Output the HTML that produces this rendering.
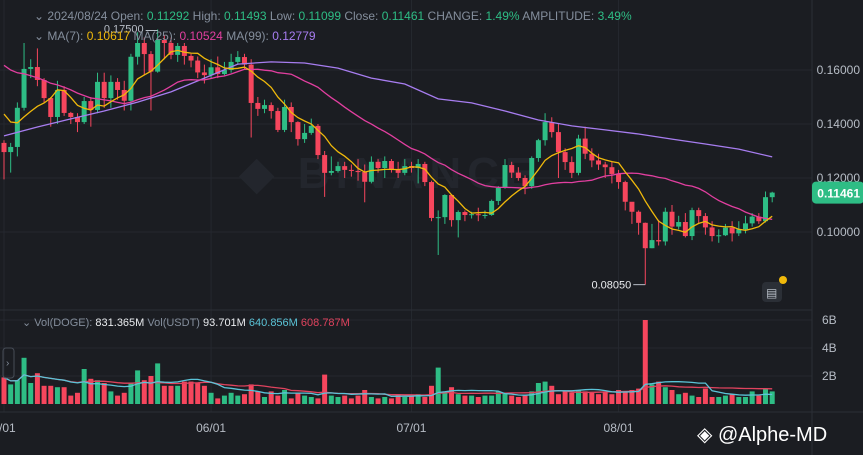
<!DOCTYPE html>
<html><head><meta charset="utf-8">
<style>
html,body{margin:0;padding:0;background:#1b1d22;}
#wrap{position:relative;width:863px;height:455px;overflow:hidden;background:#1b1d22;font-family:"Liberation Sans",sans-serif;}
svg{position:absolute;left:0;top:0;}
</style></head>
<body>
<div id="wrap">
<svg id="chart" width="863" height="455" viewBox="0 0 863 455">
  <g id="grid"></g>
  <text x="390" y="188" font-size="44" font-weight="bold" fill="#23262d" text-anchor="middle" letter-spacing="6">◆ BINANCE</text>
  <g id="vol"></g>
  <g id="candles"></g>
  <g id="lines"></g>
  <g id="axes"></g>
  <g font-size="12">
    <text x="34" y="20" fill="#848e9c">⌄ <tspan>2024/08/24 Open: </tspan><tspan fill="#2ebd85">0.11292</tspan> High: <tspan fill="#2ebd85">0.11493</tspan> Low: <tspan fill="#2ebd85">0.11099</tspan> Close: <tspan fill="#2ebd85">0.11461</tspan> CHANGE: <tspan fill="#2ebd85">1.49%</tspan> AMPLITUDE: <tspan fill="#2ebd85">3.49%</tspan></text>
    <text x="34" y="40" fill="#848e9c">⌄ MA(7): <tspan fill="#f0b90b">0.10617</tspan> MA(25): <tspan fill="#e23fa0">0.10524</tspan> MA(99): <tspan fill="#a77df0">0.12779</tspan></text>
    <text x="22" y="326" font-size="11" fill="#848e9c">⌄ Vol(DOGE): <tspan fill="#eaecef">831.365M</tspan> Vol(USDT) <tspan fill="#eaecef">93.701M</tspan> <tspan fill="#5bc4d8">640.856M</tspan> <tspan fill="#e0435e">608.787M</tspan></text>
  </g>
  <rect x="3" y="348" width="11" height="30" rx="3" fill="none" stroke="#474d57"/>
  <text x="6" y="366" font-size="10" fill="#848e9c">›</text>
  <rect x="762" y="282" width="20" height="20" rx="4" fill="#2b2f36"/>
  <text x="766" y="297" font-size="12" fill="#b7bdc6">▤</text>
  <circle cx="783" cy="280" r="4" fill="#f0b90b"/>
  <text x="697" y="441" font-size="20" fill="#ffffff">◈ @Alphe-MD</text>
</svg>
</div>
<script>
const closes=[0.1296,0.1315,0.1460,0.1604,0.1611,0.1563,0.1496,0.1426,0.1526,0.1441,0.1426,0.1407,0.1485,0.1452,0.1556,0.1496,0.1556,0.1526,0.1486,0.1649,0.1700,0.1659,0.1594,0.1711,0.1700,0.1656,0.1689,0.1652,0.1635,0.1591,0.1581,
0.1610,0.1585,0.1600,0.1630,0.1648,0.1620,0.1478,0.1456,0.1470,0.1448,0.1378,0.1463,0.1407,0.1344,0.1367,0.1393,0.1285,0.1219,0.1226,0.1244,0.1230,0.1226,0.1222,0.1186,0.1260,0.1237,0.1263,0.1230,0.1219,0.1244,
0.1237,0.1252,0.1185,0.1052,0.1055,0.1137,0.1044,0.1074,0.1063,0.1066,0.1062,0.1063,0.1115,0.1163,0.1248,0.1220,0.1200,0.1170,0.1274,0.1340,0.1407,0.1370,0.1296,0.1259,0.1219,0.1346,0.1290,0.1265,0.1250,0.1240,0.1215,
0.1185,0.1112,0.1075,0.1034,0.0940,0.0970,0.0965,0.1075,0.1020,0.1037,0.0985,0.1081,0.1059,0.1017,0.0985,0.0988,0.1016,0.0995,0.1010,0.1032,0.1057,0.1040,0.1129,0.1146];
const firstOpen=0.1330;
const highs=[.1340,.1330,.1480,.1700,.1640,.1680,.1570,.1500,.1560,.1540,.1445,.1440,.1500,.1500,.1590,.1590,.1580,.1570,.1560,.1660,.1740,.1720,.1670,.1750,.1730,.1720,.1700,.1700,.1660,.1650,.1620,
.1640,.1650,.1630,.1660,.1670,.1660,.1640,.1500,.1490,.1480,.1460,.1490,.1480,.1410,.1400,.1420,.1400,.1300,.1280,.1260,.1260,.1250,.1270,.1250,.1280,.1270,.1280,.1270,.1260,.1270,
.1260,.1270,.1260,.1190,.1080,.1140,.1140,.1080,.1080,.1075,.1090,.1080,.1120,.1170,.1270,.1260,.1240,.1210,.1280,.1345,.1440,.1425,.1400,.1310,.1280,.1360,.1390,.1310,.1290,.1260,.1260,
.1230,.1190,.1110,.1080,.1035,.1030,.1045,.1090,.1100,.1060,.1070,.1090,.1090,.1070,.1040,.1010,.1030,.1040,.1040,.1060,.1070,.1070,.1150,.1149];
const lows=[.1195,.1220,.1280,.1450,.1570,.1540,.1480,.1390,.1400,.1430,.1400,.1370,.1400,.1390,.1440,.1460,.1460,.1490,.1450,.1450,.1620,.1580,.1450,.1590,.1640,.1640,.1630,.1620,.1610,.1570,.1550,
.1570,.1570,.1580,.1590,.1620,.1600,.1350,.1430,.1440,.1420,.1370,.1370,.1370,.1320,.1330,.1360,.1270,.1130,.1210,.1220,.1200,.1205,.1190,.1110,.1180,.1220,.1200,.1220,.1200,.1210,
.1220,.1180,.1170,.1040,.0915,.1030,.1020,.0980,.1040,.1050,.1040,.1050,.1060,.1100,.1160,.1200,.1190,.1140,.1160,.1260,.1320,.1350,.1200,.1230,.1200,.1210,.1270,.1240,.1230,.1200,.1180,
.1160,.1080,.1030,.0990,.0805,.0940,.0950,.0950,.0990,.1010,.0980,.0970,.1030,.0990,.0965,.0960,.0985,.0965,.0985,.0995,.1020,.1030,.1035,.1110];
const volumes=[1.9,1.4,1.7,3.3,1.5,2.2,1.3,1.3,1.2,1.2,0.6,0.8,2.5,1.8,1.7,1.5,0.9,0.6,0.8,1.5,2.4,1.7,2.0,2.9,1.3,1.3,1.3,1.6,1.6,1.5,1.3,
0.8,0.4,0.6,0.8,0.6,0.7,1.4,0.9,0.5,0.9,0.6,1.0,0.4,0.8,0.6,0.5,0.4,2.1,0.6,0.5,0.6,0.4,0.6,1.0,0.5,0.4,0.5,0.4,0.7,0.5,
0.6,0.7,0.5,1.3,2.6,0.9,1.2,0.7,0.6,0.6,0.5,0.6,0.6,0.9,0.8,0.6,0.5,0.6,0.9,1.5,1.6,1.3,0.7,0.9,0.8,1.0,0.9,0.8,0.7,0.9,0.7,
1.0,0.9,1.0,1.1,6.0,1.4,1.6,1.2,1.0,0.7,0.8,0.6,0.5,1.1,0.5,0.5,0.6,0.7,0.5,0.5,0.9,0.6,1.1,0.9];
const priorCloses=[0.175,0.172,0.170,0.178,0.176,0.173,0.170,0.168,0.165,0.168,0.170,0.172,0.167,0.163,0.160,0.165,0.166,0.160,0.152,0.148,0.145,0.147,0.143,0.141];
const ma99Idx=[0,5,10,15,20,25,30,35,40,45,50,55,60,65,70,75,80,85,90,95,100,105,110,115];
const ma99Val=[0.1356,0.1389,0.1419,0.1448,0.1481,0.1519,0.1570,0.1622,0.1630,0.1626,0.1607,0.1570,0.1548,0.1493,0.1478,0.1448,0.1415,0.1393,0.1378,0.1363,0.1344,0.1326,0.1307,0.1278];
const priceTicks=[0.16,0.14,0.12,0.10];
const priceTickLabels=["0.16000","0.14000","0.12000","0.10000"];
const volTicks=[6,4,2];
const volTickLabels=["6B","4B","2B"];
const dateIdx=[0,31,61,92];
const dateLabels=["5/01","06/01","07/01","08/01"];

const NS="http://www.w3.org/2000/svg";
const GREEN="#2ebd85",RED="#f6465d";
const xOf=i=>4+i*6.68;
const yP=p=>232-(p-0.10)*2700;
const yV=v=>404-v*14;
function mk(tag,attrs,parent){const e=document.createElementNS(NS,tag);for(const k in attrs)e.setAttribute(k,attrs[k]);parent.appendChild(e);return e;}
const grid=document.getElementById('grid'),axes=document.getElementById('axes');
priceTicks.forEach((p,k)=>{
  const l=mk('line',{x1:0,x2:812,y1:yP(p),y2:yP(p),stroke:'#25282f','stroke-width':1},grid);
  
  
  const t=mk('text',{x:860,y:yP(p)+4,'font-size':12,fill:'#b7bdc6','text-anchor':'end'},axes);
  t.textContent=priceTickLabels[k];
  
  
});
volTicks.forEach((v,k)=>{
  const l=mk('line',{x1:0,x2:812,y1:yV(v),y2:yV(v),stroke:'#25282f','stroke-width':1},grid);
  
  
  const t=mk('text',{x:822,y:yV(v)+4,'font-size':12,fill:'#b7bdc6'},axes);
  t.textContent=volTickLabels[k];
  
  
});
dateIdx.forEach((i,k)=>{
  const l=mk('line',{x1:xOf(i),x2:xOf(i),y1:0,y2:412,stroke:'#25282f','stroke-width':1},grid);
  
  
  const t=mk('text',{x:xOf(i),y:432,'font-size':12,fill:'#b7bdc6','text-anchor':'middle'},axes);
  t.textContent=dateLabels[k];
  
  
});
[[0,310,812,310],[0,412,863,412],[812,0,812,455]].forEach(s=>{
  const l=mk('line',{x1:s[0],y1:s[1],x2:s[2],y2:s[3],stroke:'#2b2f36','stroke-width':1},grid);
  
  
});
const cg=document.getElementById('candles'),vg=document.getElementById('vol');
closes.forEach((c,i)=>{
  const o=i===0?firstOpen:closes[i-1];
  const col=c>=o?GREEN:RED;const x=xOf(i);
  const w=mk('line',{x1:x,x2:x,y1:yP(highs[i]),y2:yP(lows[i]),stroke:col,'stroke-width':1},cg);
  
  
  const top=yP(Math.max(o,c)),bot=yP(Math.min(o,c));
  const b=mk('rect',{x:x-2.5,y:top,width:5,height:Math.max(1,bot-top),fill:col},cg);
  
  
  const v=mk('rect',{x:x-2.5,y:yV(volumes[i]),width:5,height:volumes[i]*14,fill:col},vg);
  
  
});
const lg=document.getElementById('lines');
function sma(arr,n,prior){const all=prior.concat(arr);const off=prior.length;return arr.map((_,i)=>{const s=Math.max(0,off+i-n+1);const sl=all.slice(s,off+i+1);return sl.reduce((a,b)=>a+b,0)/sl.length;});}
function poly(pts,color,name){const p=mk('polyline',{points:pts.map(q=>q[0].toFixed(1)+','+q[1].toFixed(1)).join(' '),fill:'none',stroke:color,'stroke-width':1.3},lg);}
const ma7=sma(closes,7,priorCloses),ma25=sma(closes,25,priorCloses);
poly(ma99Idx.map((i,k)=>[xOf(i),yP(ma99Val[k])]),'#a77df0','ma99-line');
poly(ma25.map((v,i)=>[xOf(i),yP(v)]),'#e23fa0','ma25-line');
poly(ma7.map((v,i)=>[xOf(i),yP(v)]),'#f0b90b','ma7-line');
const vma10=sma(volumes,10,[]),vma20=sma(volumes,20,[]);
poly(vma20.map((v,i)=>[xOf(i),yV(v)]),'#e0435e','volume-ma-slow');
poly(vma10.map((v,i)=>[xOf(i),yV(v)]),'#5bc4d8','volume-ma-fast');
// last price tag
const lastC=closes[closes.length-1];
const tag=mk('rect',{x:812,y:yP(lastC)-11,width:52,height:22,rx:4,fill:GREEN},axes);


const tt=mk('text',{x:860,y:yP(lastC)+5,'font-size':12,'font-weight':'bold',fill:'#fff','text-anchor':'end'},axes);
tt.textContent=lastC.toFixed(5).replace(/^0\.1146$/,'')==''?'0.11461':'0.11461';


// high / low markers
const hiI=highs.indexOf(Math.max(...highs)),loI=lows.indexOf(Math.min(...lows));
const hl=mk('line',{x1:xOf(hiI)-12,x2:xOf(hiI),y1:yP(highs[hiI])+1,y2:yP(highs[hiI])+1,stroke:'#b7bdc6'},axes);


const ht=mk('text',{x:xOf(hiI)-14,y:yP(highs[hiI])+3,'font-size':11,fill:'#b7bdc6','text-anchor':'end'},axes);
ht.textContent='0.17500';


const ll=mk('line',{x1:xOf(loI)-12,x2:xOf(loI),y1:yP(lows[loI]),y2:yP(lows[loI]),stroke:'#b7bdc6'},axes);


const lt=mk('text',{x:xOf(loI)-14,y:yP(lows[loI])+4,'font-size':11,fill:'#eaecef','text-anchor':'end'},axes);
lt.textContent='0.08050';


</script>
</body></html>
